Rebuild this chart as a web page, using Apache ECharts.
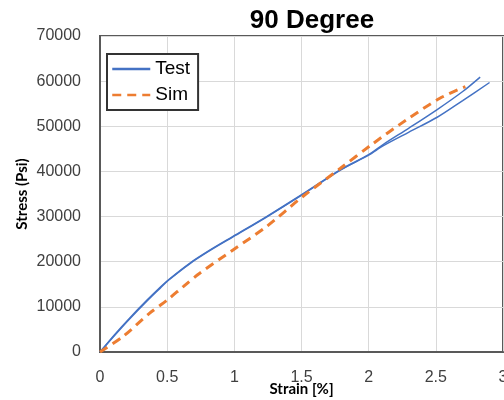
<!DOCTYPE html>
<html>
<head>
<meta charset="utf-8">
<script src="https://cdn.jsdelivr.net/npm/echarts@6/dist/echarts.min.js"></script>
<style>html,body{margin:0;padding:0;background:#fff}#c{width:504px;height:400px}</style>
</head>
<body>
<div id="c"></div>
<script>
var testAX = [0, 0.11, 0.22, 0.35, 0.45, 0.51, 0.67, 0.82, 0.99, 1.24, 1.51, 1.79, 2.00, 2.11, 2.30, 2.51, 2.70, 2.83];
var testAY = [0, 3900, 7500, 11500, 14400, 16000, 19700, 22600, 25600, 30000, 35000, 40400, 43700, 46000, 49600, 53700, 57700, 60900];
var testBX = [0, 0.11, 0.22, 0.35, 0.45, 0.51, 0.67, 0.82, 0.99, 1.24, 1.51, 1.79, 2.00, 2.11, 2.30, 2.51, 2.70, 2.90];
var testBY = [0, 3700, 7300, 11300, 14200, 15900, 19600, 22500, 25500, 29900, 34900, 40300, 43600, 45700, 48700, 52000, 55700, 59700];
var simX = [0, 0.17, 0.37, 0.50, 0.62, 0.74, 0.99, 1.24, 1.51, 1.79, 2.02, 2.28, 2.53, 2.72];
var simY = [0, 3400, 8600, 11500, 14500, 17400, 22600, 27800, 34450, 40700, 45900, 51400, 56200, 58800];

function pairs(xs, ys) { return xs.map(function (x, i) { return [x, ys[i]]; }); }

var chart = echarts.init(document.getElementById('c'), null, {renderer: 'canvas'});
chart.setOption({
  animation: false,
  title: {
    text: '90 Degree', left: 307, top: 3, textAlign: 'center',
    textStyle: {fontFamily: 'Liberation Sans', fontWeight: 'bold', fontSize: 26, color: '#000'}
  },
  legend: {
    data: ['Test', 'Sim'], orient: 'vertical', left: 107, top: 54,
    itemWidth: 38, itemHeight: 14, itemGap: 2,
    padding: [3, 8, 3, 4],
    itemStyle: {opacity: 0},
    lineStyle: {width: 2.5},
    backgroundColor: '#fff', borderColor: '#333', borderWidth: 2,
    textStyle: {fontFamily: 'Liberation Sans', fontSize: 19, color: '#000', lineHeight: 24}
  },
  grid: {left: 100, right: 1, top: 36, bottom: 48, show: true, borderColor: '#595959', borderWidth: 2, outerBoundsMode: 'none', containLabel: false},
  xAxis: {
    type: 'value', min: 0, max: 3, interval: 0.5,
    name: 'Strain [%]', nameLocation: 'middle', nameGap: 30, nameMoveOverlap: false,
    nameTextStyle: {fontFamily: 'Lato', fontWeight: 'bold', fontSize: 15, color: '#000'},
    axisLine: {show: true, lineStyle: {color: '#595959', width: 2}},
    axisTick: {show: false},
    axisLabel: {fontFamily: 'Liberation Sans', fontSize: 16, color: '#404040', margin: 18},
    splitLine: {show: true, lineStyle: {color: '#d9d9d9', width: 1}}
  },
  yAxis: {
    type: 'value', min: 0, max: 70000, interval: 10000,
    name: 'Stress (Psi)', nameLocation: 'middle', nameGap: 70, nameMoveOverlap: false,
    nameTextStyle: {fontFamily: 'Lato', fontWeight: 'bold', fontSize: 15, color: '#000'},
    axisLine: {show: true, lineStyle: {color: '#595959', width: 2}},
    axisTick: {show: false},
    axisLabel: {fontFamily: 'Liberation Sans', fontSize: 16, color: '#404040', margin: 19,
      formatter: function (v) { return String(v); }},
    splitLine: {show: true, lineStyle: {color: '#d9d9d9', width: 1}}
  },
  series: [
    {name: 'Test', type: 'line', data: pairs(testAX, testAY), symbol: 'none', smooth: 0.3,
     lineStyle: {color: '#4472C4', width: 1.5}, itemStyle: {color: '#4472C4'}},
    {name: 'Test', type: 'line', data: pairs(testBX, testBY), symbol: 'none', smooth: 0.3,
     lineStyle: {color: '#4472C4', width: 1.5}, itemStyle: {color: '#4472C4'}},
    {name: 'Sim', type: 'line', data: pairs(simX, simY), symbol: 'none', smooth: 0.3,
     lineStyle: {color: '#ED7D31', width: 3, type: [9, 6]}, itemStyle: {color: '#ED7D31'}}
  ]
});
</script>
</body>
</html>
